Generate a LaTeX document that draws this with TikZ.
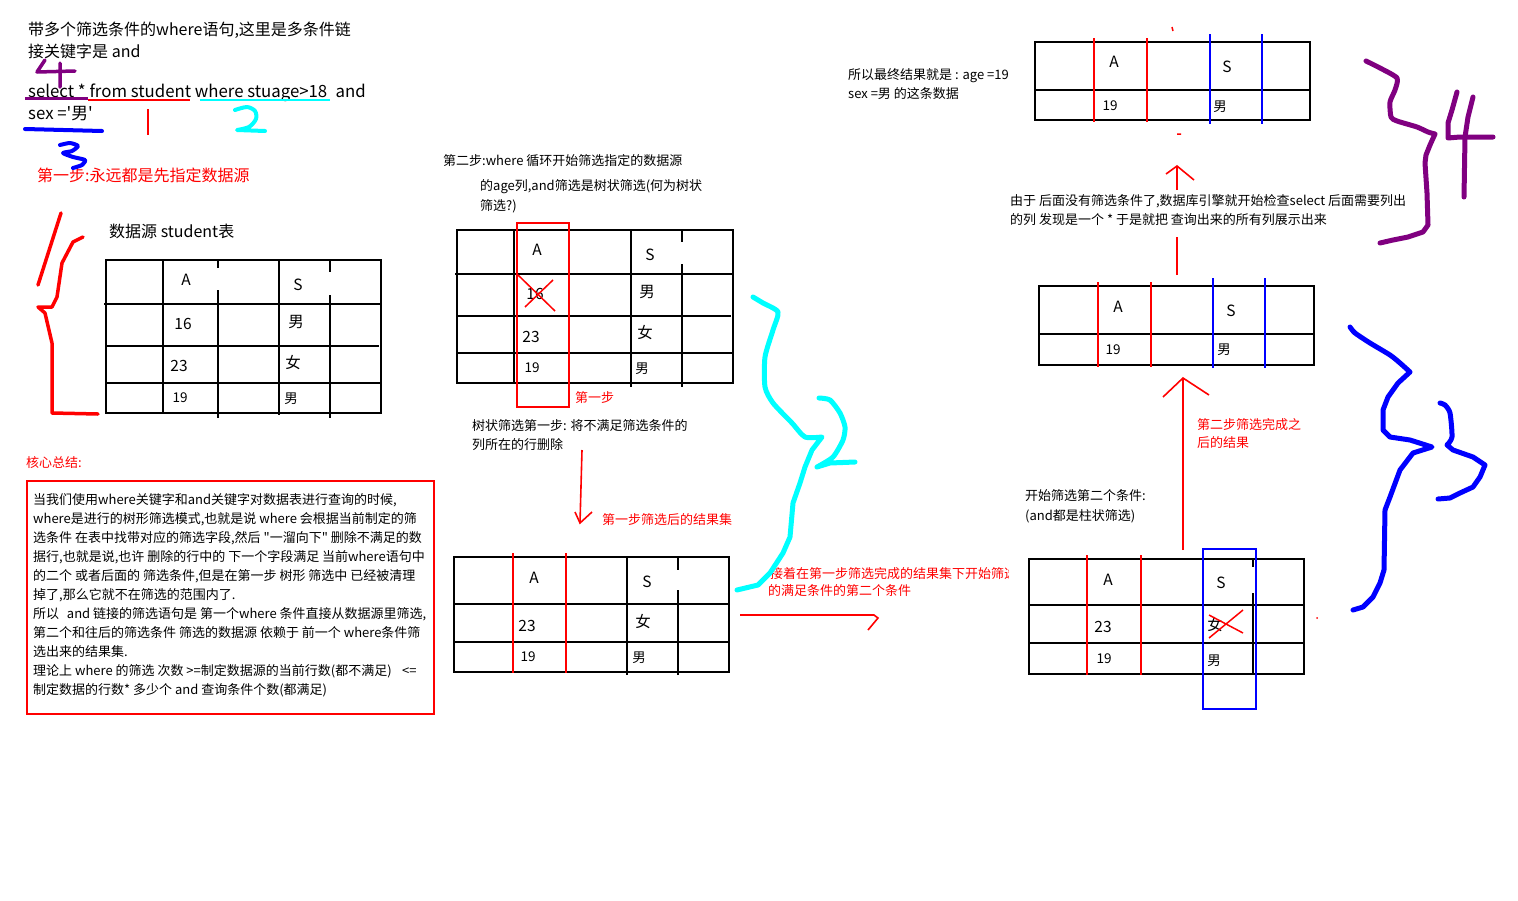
\documentclass[tikz,border=0pt]{standalone}
\usepackage{fontspec}
\newfontfamily\cjk{Noto Sans CJK SC}
\definecolor{penCyan}{RGB}{0,255,255}
\definecolor{penPurple}{RGB}{128,0,128}
\definecolor{penBlue}{RGB}{0,0,255}
\definecolor{penRed}{RGB}{255,0,0}
\tikzset{
  txt/.style={font=\cjk\fontsize{13}{20}\selectfont, anchor=base west, inner sep=0pt, align=left},
  bigtxt/.style={txt, font=\cjk\fontsize{16}{21.5}\selectfont},
  cell/.style={font=\cjk\fontsize{15.5}{16}\selectfont, inner sep=0pt},
  smallcell/.style={font=\cjk\fontsize{13.5}{14}\selectfont, inner sep=0pt},
  gridline/.style={line width=2pt},
  redcol/.style={penRed, line width=2pt},
  bluecol/.style={penBlue, line width=2pt},
  pen/.style={line width=4.5pt, line cap=round, line join=round},
  arrowline/.style={penRed, line width=1.6pt},
}
\begin{document}
\begin{tikzpicture}[x=1pt,y=-1pt]
  \fill[white] (0,0) rectangle (1518,900);
  \useasboundingbox (0,0) rectangle (1518,900);

  % query text (multi-line nodes sit on their last baseline)
  \node[bigtxt] (title) at (28,57) {带多个筛选条件的where语句,这里是多条件链\\接关键字是 and};
  \node[bigtxt, font=\cjk\fontsize{16.8}{21.5}\selectfont] (sql) at (28,119) {select * from student where stuage>18\hspace{0.5em}and\\sex ='男'};
  \node[bigtxt, penRed] (stepone) at (37,181) {第一步:永远都是先指定数据源};
  \draw[penPurple, line width=3pt] (25,98) -- (88,98);
  \draw[penRed, line width=2pt] (88,100) -- (190,100);
  \draw[penCyan, line width=2.5pt] (200,100) -- (330,100);
  \draw[penRed, line width=2pt] (148,109) -- (148,135);
  \draw[penBlue, line width=4pt, line cap=round] (25,129) -- (102,131);
  \draw[pen, penPurple, line width=3.5pt] (45,60) -- (37,72) -- (75,71) (60,63) -- (60,87);
  \draw[pen, penCyan, line width=4pt] plot[smooth, tension=0.5] coordinates {(235,110) (247,107) (255,111) (256,119) (249,127) (237,130)} -- (265,131);
  \draw[pen, penBlue, line width=4pt] plot[smooth, tension=0.4] coordinates {(60,145) (70,143) (78,146) (72,151) (63,153) (73,157) (85,160) (82,165) (73,168)};

  % source table
  \node[bigtxt] (srctitle) at (109,237) {数据源 student表};
  \draw[gridline] (106,260) rectangle (381,413);
  \draw[gridline] (104,304) -- (381,304) (106,346) -- (379,346) (106,383) -- (381,383);
  \draw[gridline] (163,260) -- (163,413) (279,260) -- (279,415);
  \draw[gridline] (218,260) -- (218,268) (218,290) -- (218,418);
  \draw[gridline] (330,260) -- (330,272) (330,295) -- (330,418);
  \node[cell] (s1a) at (186,280) {A};
  \node[cell] (s1s) at (298,285) {S};
  \node[cell] (s1r1a) at (183,324) {16};
  \node[cell] (s1r1s) at (296,322) {男};
  \node[cell] (s1r2a) at (179,366) {23};
  \node[cell] (s1r2s) at (293,363) {女};
  \node[smallcell] (s1r3a) at (180,398) {19};
  \node[smallcell] (s1r3s) at (291,399) {男};
  \draw[pen, penRed, line width=3.5pt] (61,213) -- (38,285);
  \draw[pen, penRed, line width=3.5pt] (83,237) -- (73,242) -- (62,263) -- (57,297) -- (52,307) -- (38,307) -- (45,313) -- (52,343) -- (52,413) -- (98,414);

  % summary
  \node[txt, penRed] (sumtitle) at (26,467) {核心总结:};
  \draw[penRed, line width=2pt] (27,481) rectangle (434,714);
  \node[txt, font=\cjk\fontsize{13}{19}\selectfont] (sumtext) at (33,694) {当我们使用where关键字和and关键字对数据表进行查询的时候,\\
    where是进行的树形筛选模式,也就是说 where 会根据当前制定的筛\\
    选条件 在表中找带对应的筛选字段,然后 "一溜向下" 删除不满足的数\\
    据行,也就是说,也许 删除的行中的 下一个字段满足 当前where语句中\\
    的二个 或者后面的 筛选条件,但是在第一步 树形 筛选中 已经被清理\\
    掉了,那么它就不在筛选的范围内了.\\
    所以\hspace{0.6em}and 链接的筛选语句是 第一个where 条件直接从数据源里筛选,\\
    第二个和往后的筛选条件 筛选的数据源 依赖于 前一个 where条件筛\\
    选出来的结果集.\\
    理论上 where 的筛选 次数 >=制定数据源的当前行数(都不满足)\hspace{0.8em}<=\\
    制定数据的行数* 多少个 and 查询条件个数(都满足)};

  % step two, first condition
  \node[txt] (steptwo) at (443,165) {第二步:where 循环开始筛选指定的数据源};
  \node[txt] (steptwob) at (480,210) {的age列,and筛选是树状筛选(何为树状\\筛选?)};
  \draw[gridline] (457,230) rectangle (733,383);
  \draw[gridline] (455,274) -- (733,274) (457,316) -- (731,316) (457,353) -- (733,353);
  \draw[gridline] (514,230) -- (514,383) (569,230) -- (569,383) (631,230) -- (631,387);
  \draw[gridline] (682,230) -- (682,242) (682,264) -- (682,387);
  \draw[redcol] (517,223) rectangle (569,407);
  \node[cell] (s2a) at (537,250) {A};
  \node[cell] (s2s) at (650,255) {S};
  \node[cell] (s2r1a) at (535,294) {16};
  \node[cell] (s2r1s) at (647,292) {男};
  \node[cell] (s2r2a) at (531,337) {23};
  \node[cell] (s2r2s) at (645,333) {女};
  \node[smallcell] (s2r3a) at (532,368) {19};
  \node[smallcell] (s2r3s) at (642,369) {男};
  \draw[penRed, line width=1.5pt] (518,275) -- (555,311) (525,307) -- (553,280);
  \node[txt, penRed] (firstlabel) at (575,402) {第一步};
  \node[txt] (treestep) at (472,449) {树状筛选第一步: 将不满足筛选条件的\\[-1pt]列所在的行删除};
  \coordinate (d1) at (582,450);
  \coordinate (d2) at (580,523);
  \draw[arrowline] (d1) -- (d2);
  \draw[arrowline] (d2) ++(-5,-11) -- (d2) -- ++(12,-11);
  \node[txt, penRed] (firstresult) at (602,524) {第一步筛选后的结果集};

  % result of first condition
  \draw[gridline] (454,557) rectangle (729,672);
  \draw[gridline] (454,604) -- (729,604) (454,642) -- (729,642);
  \draw[gridline] (627,557) -- (627,675);
  \draw[gridline] (678,557) -- (678,570) (678,590) -- (678,675);
  \draw[redcol] (513,553) -- (513,673) (566,553) -- (566,673);
  \node[cell] (s3a) at (534,578) {A};
  \node[cell] (s3s) at (647,582) {S};
  \node[cell] (s3r1a) at (527,626) {23};
  \node[cell] (s3r1s) at (643,622) {女};
  \node[smallcell] (s3r2a) at (528,657) {19};
  \node[smallcell] (s3r2s) at (639,658) {男};

  \begin{scope}
    \clip (760,560) rectangle (1008,600);
    \node[txt, penRed] (nexttext) at (770,578) {接着在第一步筛选完成的结果集下开始筛选};
  \end{scope}
  \node[txt, penRed] (nexttextb) at (768,595) {的满足条件的第二个条件};
  \coordinate (h1) at (740,615);
  \coordinate (h2) at (874,615);
  \draw[arrowline] (h1) -- (h2) -- ++(4,3) -- ++(-10,12);
  \draw[pen, penCyan, line width=5pt] plot[smooth, tension=0.4] coordinates {(753,297) (763,303) (778,312) (773,330) (765,357) (765,387) (773,403) (792,423) (805,437) (822,437)} -- (812,450) -- (805,467) -- (800,483) -- (793,503) -- (790,537) -- (783,553) -- (770,573) -- (758,585) -- (737,590);
  \draw[pen, penCyan, line width=5pt] plot[smooth, tension=0.4] coordinates {(819,398) (830,400) (840,413) (845,427) (843,440) (833,457) (817,467)} -- (830,463) -- (855,462);

  % second condition
  \node[txt] (secondcond) at (1025,520) {开始筛选第二个条件:\\(and都是柱状筛选)};
  \draw[gridline] (1029,559) rectangle (1304,674);
  \draw[gridline] (1029,605) -- (1304,605) (1029,643) -- (1304,643);
  \draw[gridline] (1203,559) -- (1203,674);
  \draw[gridline] (1253,559) -- (1253,567) (1253,593) -- (1253,674);
  \draw[redcol] (1087,555) -- (1087,675) (1141,555) -- (1141,675);
  \draw[bluecol] (1203,549) rectangle (1256,709);
  \node[cell] (s4a) at (1108,580) {A};
  \node[cell] (s4s) at (1221,583) {S};
  \node[cell] (s4r1a) at (1103,627) {23};
  \node[cell] (s4r1s) at (1215,625) {女};
  \node[smallcell] (s4r2a) at (1104,659) {19};
  \node[smallcell] (s4r2s) at (1214,661) {男};
  \draw[penRed, line width=1.5pt] (1209,638) -- (1243,610) (1209,615) -- (1243,633);
  \fill[penRed] (1317,618) circle (1);
  \coordinate (u1) at (1183,550);
  \coordinate (u2) at (1183,378);
  \draw[arrowline] (u1) -- (u2);
  \draw[arrowline] (u2) ++(-20,19) -- (u2) -- ++(26,17);
  \node[txt, penRed, font=\cjk\fontsize{13}{18}\selectfont] (secondresult) at (1197,447) {第二步筛选完成之\\后的结果};

  % result of second condition
  \draw[gridline] (1039,286) rectangle (1314,365);
  \draw[gridline] (1039,334) -- (1314,334);
  \draw[redcol] (1098,282) -- (1098,367) (1151,282) -- (1151,367);
  \draw[bluecol] (1213,278) -- (1213,368) (1265,278) -- (1265,368);
  \node[cell] (s5a) at (1118,307) {A};
  \node[cell] (s5s) at (1231,311) {S};
  \node[smallcell] (s5r1a) at (1113,350) {19};
  \node[smallcell] (s5r1s) at (1224,350) {男};
  \node[txt] (selectnote) at (1010,224) {由于 后面没有筛选条件了,数据库引擎就开始检查select 后面需要列出\\[-1pt]的列 发现是一个 * 于是就把 查询出来的所有列展示出来};
  \coordinate (v1) at (1177,275);
  \coordinate (v2) at (1177,237);
  \coordinate (v3) at (1177,190);
  \coordinate (v4) at (1177,166);
  \draw[arrowline] (v1) -- (v2) (v3) -- (v4);
  \draw[arrowline] (v4) ++(-11,8) -- (v4) -- ++(17,14);
  \draw[penRed, line width=1.5pt] (1172,27) -- (1173,31) (1177,134) -- (1181,134);

  % final result
  \node[txt, font=\cjk\fontsize{13}{19}\selectfont] (finalnote) at (848,98) {所以最终结果就是 : age =19\\sex =男 的这条数据};
  \draw[gridline] (1035,42) rectangle (1310,120);
  \draw[gridline] (1035,90) -- (1310,90);
  \draw[redcol] (1094,38) -- (1094,122) (1147,38) -- (1147,122);
  \draw[bluecol] (1210,34) -- (1210,124) (1262,34) -- (1262,124);
  \node[cell] (s6a) at (1114,62) {A};
  \node[cell] (s6s) at (1227,67) {S};
  \node[smallcell] (s6r1a) at (1110,106) {19};
  \node[smallcell] (s6r1s) at (1220,107) {男};

  % braces on the right
  \draw[pen, penPurple, line width=5pt] plot[smooth, tension=0.4] coordinates {(1366,61) (1380,68) (1397,78) (1395,90) (1390,102) (1391,117) (1397,121) (1417,127) (1428,132) (1435,134)} -- (1430,145) -- (1426,155) -- (1425,163) -- (1427,193) -- (1428,225) -- (1423,232) -- (1408,237) -- (1393,240) -- (1380,243);
  \draw[pen, penPurple, line width=5pt] (1457,92) -- (1452,110) -- (1448,123) -- (1448,138) -- (1460,137) -- (1493,137);
  \draw[pen, penPurple, line width=5pt] (1473,97) -- (1468,117) -- (1465,137) -- (1464,197);
  \draw[pen, penBlue, line width=5pt] plot[smooth, tension=0.4] coordinates {(1350,327) (1355,333) (1370,343) (1390,355) (1400,363) (1410,372)} -- (1398,383) -- (1388,397) -- (1383,410) -- (1383,430) -- (1390,437) -- (1410,440) -- (1432,447) -- (1413,453) -- (1400,470) -- (1390,497) -- (1385,510) -- (1384,570) -- (1380,583) -- (1373,597) -- (1363,607) -- (1353,610);
  \draw[pen, penBlue, line width=5pt] plot[smooth, tension=0.4] coordinates {(1440,403) (1445,405) (1450,413) (1452,437) (1447,445)} -- (1453,450) -- (1473,457) -- (1485,465) -- (1480,477) -- (1473,487) -- (1460,493) -- (1450,498) -- (1438,499);
\end{tikzpicture}
\end{document}
